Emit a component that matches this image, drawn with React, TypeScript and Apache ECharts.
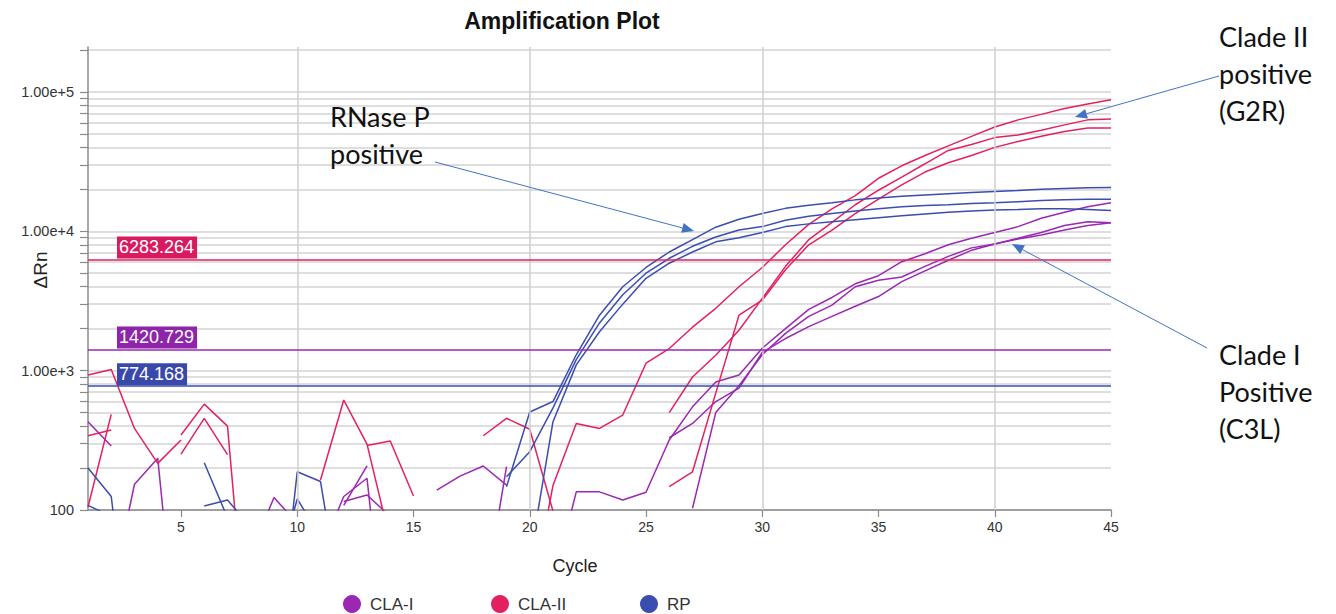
import React, { useEffect, useRef } from "react";
import * as echarts from "echarts";

// ---------- data ----------
const cycles = [
  1, 2, 3, 4, 5, 6, 7, 8, 9, 10, 11, 12, 13, 14, 15, 16, 17, 18, 19, 20, 21, 22, 23,
  24, 25, 26, 27, 28, 29, 30, 31, 32, 33, 34, 35, 36, 37, 38, 39, 40, 41, 42, 43, 44, 45,
];

// CLA-I wells (null = no positive signal on log scale)
const claI_1 = [
  430, 288, null, null, null, null, null, null, null, null, 50, 125, 169, 5, null, 139, 175, 207, 151, null,
  29, 135, 135, 118, 134, 318, 550, 830, 930, 1450, 2000, 2750, 3350, 4200, 4800, 6050, 6900, 8000, 8900,
  9800, 10800, 12400, 13700, 15000, 16000,
];
const claI_2 = [
  null, 25, 153, 235, 5, null, null, 49, 123, 80, null, 108, 207, null, null, null, null, 20, 205, null,
  null, null, null, null, null, 330, 418, 600, 750, 1350, 1700, 2070, 2450, 2900, 3400, 4350, 5200, 6200,
  7300, 8100, 8800, 9400, 10200, 11000, 11500,
];
const claI_3 = [
  null, null, null, null, null, null, null, null, null, null, null, 115, 128, 90, null, null, null, null,
  null, null, null, null, null, null, null, null, 103, 500, 780, 1300, 1850, 2450, 2950, 4000, 4450, 4700,
  5600, 6600, 7600, 8100, 8900, 9800, 11000, 11700, 11500,
];

// CLA-II wells
const claII_1 = [
  930, 1020, 385, 216, 318, null, null, null, null, null, 164, 615, 297, 60, null, null, null, null, null,
  20, 150, 418, 385, 480, 1130, 1440, 2050, 2800, 4000, 5500, 8000, 11200, 14500, 18000, 24000, 29500,
  35000, 41000, 48000, 56000, 63000, 69000, 76000, 82000, 88000,
];
const claII_2 = [
  341, 375, null, null, 345, 575, 400, 5, null, null, null, null, 290, 313, 126, null, null, 341, 455, 380,
  98, null, null, null, null, 500, 900, 1290, 1950, 3300, 5600, 8700, 11600, 15500, 19700, 24500, 30500,
  38000, 42000, 47000, 49000, 53000, 58000, 63000, 64000,
];
const claII_3 = [
  105, 485, null, null, 252, 455, 250, null, null, null, null, null, null, null, null, null, null, null,
  null, null, null, null, null, null, null, 147, 188, 690, 2500, 3200, 5300, 8000, 10200, 13400, 17000,
  21500, 26600, 31000, 35000, 40000, 44000, 48000, 52000, 55000, 55000,
];

// RP wells
const rp_1 = [
  200, 125, 5, null, null, 218, 88, null, 6, 188, 160, 16, null, null, null, null, null, null, 147, 505,
  600, 1300, 2500, 4000, 5500, 7100, 8700, 10700, 12200, 13400, 14600, 15400, 16000, 16800, 17300, 17800,
  18200, 18600, 19000, 19300, 19600, 20000, 20300, 20500, 20600,
];
const rp_2 = [
  108, 90, null, null, null, 107, 118, 75, 30, 120, 64, null, null, null, null, null, null, null, 173, 262,
  540, 1200, 2200, 3500, 5000, 6400, 7800, 9100, 10200, 10800, 12000, 12800, 13400, 14000, 14500, 15000,
  15300, 15500, 15800, 16000, 16300, 16600, 16800, 17000, 17000,
];
const rp_3 = [
  null, null, null, null, null, null, null, null, null, null, null, null, null, null, null, null, null,
  null, null, 44, 430, 1100, 1900, 3000, 4600, 5900, 7100, 8400, 9000, 9800, 10800, 11300, 11700, 12100,
  12500, 12900, 13300, 13700, 14000, 14200, 14300, 14500, 14500, 14300, 14100,
];

const groupNames = ["CLA-I", "CLA-II", "RP"];
const thresholdValues = [1420.729, 6283.264, 774.168];
const thresholdLabels = ["1420.729", "6283.264", "774.168"];

const yLabelTicks = [100, 1000, 10000, 100000];
const yGridTicks = [
  100, 200, 300, 400, 500, 600, 700, 800, 900,
  1000, 2000, 3000, 4000, 5000, 6000, 7000, 8000, 9000,
  10000, 20000, 30000, 40000, 50000, 60000, 70000, 80000, 90000,
  100000, 200000,
];
const xTicks = [5, 10, 15, 20, 25, 30, 35, 40, 45];
const xGridLines = [10, 20, 30, 40];

// ---------- styles ----------
const COLORS = ["#9a28b2", "#e3215f", "#3b4daf"];
const LABEL_BG = ["#8e24aa", "#d81b60", "#3949ab"];
const AXIS_FONT = "'Liberation Sans', Arial, sans-serif";
const NOTE_FONT = "Lato, 'Open Sans', sans-serif";
const ARROW = "#4472C4";
const LEGEND_LEFT = [343, 491, 640];

const toPairs = (vals: (number | null)[]) => cycles.map((c, i) => [c, vals[i]]);

function thresholdMarkLine(g: number) {
  return {
    silent: true,
    symbol: ["none", "none"],
    lineStyle: { color: COLORS[g], width: 1.5, type: "solid" },
    label: {
      show: true,
      position: "insideStartTop",
      distance: [29, 1],
      formatter: () => thresholdLabels[g],
      color: "#ffffff",
      backgroundColor: LABEL_BG[g],
      fontFamily: AXIS_FONT,
      fontSize: 18,
      lineHeight: 20,
      padding: [1, 3, 1, 2],
    },
    data: [{ yAxis: thresholdValues[g] }],
  };
}

function lineSeries(g: number, vals: (number | null)[], withThreshold: boolean) {
  const s: any = {
    type: "line",
    name: groupNames[g],
    data: toPairs(vals),
    showSymbol: false,
    symbol: "none",
    connectNulls: false,
    clip: true,
    z: 3,
    lineStyle: { color: COLORS[g], width: 1.5 },
    itemStyle: { color: COLORS[g] },
    emphasis: { disabled: true },
  };
  if (withThreshold) s.markLine = thresholdMarkLine(g);
  return s;
}

function arrow(x1: number, y1: number, x2: number, y2: number) {
  const dx = x2 - x1;
  const dy = y2 - y1;
  const L = Math.hypot(dx, dy);
  const ux = dx / L;
  const uy = dy / L;
  const hl = 12;
  const hw = 5;
  const bx = x2 - ux * hl;
  const by = y2 - uy * hl;
  return [
    {
      type: "line",
      silent: true,
      z: 100,
      shape: { x1, y1, x2: bx, y2: by },
      style: { stroke: ARROW, lineWidth: 1 },
    },
    {
      type: "polygon",
      silent: true,
      z: 100,
      shape: {
        points: [
          [x2, y2],
          [bx - uy * hw, by + ux * hw],
          [bx + uy * hw, by - ux * hw],
        ],
      },
      style: { fill: ARROW },
    },
  ];
}

function note(x: number, y: number, text: string) {
  return {
    type: "text",
    silent: true,
    z: 100,
    x,
    y,
    style: {
      text,
      fill: "#111",
      font: `27px ${NOTE_FONT}`,
      lineHeight: 37,
      textAlign: "left",
      textVerticalAlign: "top",
    },
  };
}

export default function App() {
  const ref = useRef<HTMLDivElement>(null);

  useEffect(() => {
    if (!ref.current) return;
    const chart = echarts.init(ref.current, undefined, { renderer: "svg" });

    const option: any = {
      animation: false,
      backgroundColor: "#ffffff",
      grid: { left: 88, right: 225, top: 47, bottom: 104, containLabel: false, outerBoundsMode: "none" },
      legend: groupNames.map((name, i) => ({
        data: [name],
        left: LEGEND_LEFT[i],
        top: 595,
        padding: 0,
        icon: "circle",
        itemWidth: 18,
        itemHeight: 18,
        selectedMode: false,
        textStyle: {
          fontFamily: AXIS_FONT,
          fontSize: 17,
          color: "#333",
          padding: [0, 0, 0, 4],
        },
      })),
      xAxis: {
        type: "value",
        min: 1,
        max: 45,
        axisLine: { show: true, lineStyle: { color: "#8a8a8a", width: 1.5 } },
        axisTick: { show: true, customValues: xTicks, length: 7, lineStyle: { color: "#8a8a8a", width: 1.2 } },
        axisLabel: {
          customValues: xTicks,
          fontFamily: AXIS_FONT,
          fontSize: 14,
          color: "#333",
          margin: 10,
        },
        splitLine: { show: false },
      },
      yAxis: {
        type: "log",
        logBase: 10,
        min: 100,
        max: 210000,
        axisLine: { show: true, lineStyle: { color: "#8a8a8a", width: 1.5 } },
        axisTick: { show: true, customValues: yGridTicks, length: 8, lineStyle: { color: "#8a8a8a", width: 1.2 } },
        axisLabel: {
          customValues: yLabelTicks,
          fontFamily: AXIS_FONT,
          fontSize: 14.5,
          color: "#333",
          margin: 14,
          formatter: (v: number) => {
            const r = Math.round(v);
            return r >= 1000 ? r.toExponential(2) : String(r);
          },
        },
        splitLine: { show: true, lineStyle: { color: "#d3d3d3", width: 1.5 } },
        minorTick: { show: false },
        minorSplitLine: { show: false },
      },
      series: [
        {
          type: "line",
          name: "grid",
          data: [],
          z: 1,
          silent: true,
          markLine: {
            silent: true,
            symbol: ["none", "none"],
            label: { show: false },
            lineStyle: { color: "#cfcfcf", width: 1.5, type: "solid" },
            data: xGridLines.map((v) => ({ xAxis: v })),
          },
        },
        lineSeries(0, claI_1, true),
        lineSeries(0, claI_2, false),
        lineSeries(0, claI_3, false),
        lineSeries(1, claII_1, true),
        lineSeries(1, claII_2, false),
        lineSeries(1, claII_3, false),
        lineSeries(2, rp_1, true),
        lineSeries(2, rp_2, false),
        lineSeries(2, rp_3, false),
      ],
      graphic: {
        elements: [
          {
            type: "text",
            silent: true,
            z: 100,
            x: 562,
            y: 21,
            style: {
              text: "Amplification Plot",
              fill: "#111",
              font: `bold 23px ${AXIS_FONT}`,
              textAlign: "center",
              textVerticalAlign: "middle",
            },
          },
          {
            type: "text",
            silent: true,
            z: 100,
            x: 40,
            y: 270,
            rotation: Math.PI / 2,
            style: {
              text: "ΔRn",
              fill: "#222",
              font: `19px ${AXIS_FONT}`,
              textAlign: "center",
              textVerticalAlign: "middle",
            },
          },
          {
            type: "text",
            silent: true,
            z: 100,
            x: 575,
            y: 566,
            style: {
              text: "Cycle",
              fill: "#222",
              font: `18px ${AXIS_FONT}`,
              textAlign: "center",
              textVerticalAlign: "middle",
            },
          },
          note(330, 98, "RNase P\npositive"),
          note(1219, 18, "Clade II\npositive\n(G2R)"),
          note(1219, 336, "Clade I\nPositive\n(C3L)"),
          ...arrow(435, 162, 694, 231),
          ...arrow(1219, 76, 1075, 117),
          ...arrow(1207, 348, 1012, 244),
        ],
      },
    };

    chart.setOption(option);
    return () => chart.dispose();
  }, []);

  return (
    <div
      ref={ref}
      style={{ position: "absolute", left: 0, top: 0, width: 1336, height: 614 }}
    />
  );
}
